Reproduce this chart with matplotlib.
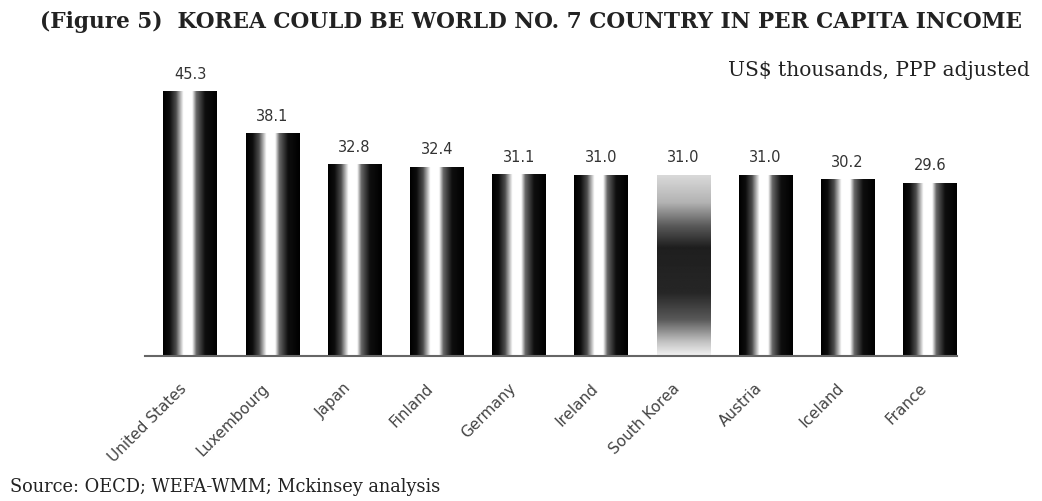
import numpy as np
import matplotlib.pyplot as plt

countries = ['United States', 'Luxembourg', 'Japan', 'Finland', 'Germany',
             'Ireland', 'South Korea', 'Austria', 'Iceland', 'France']
income = [45.3, 38.1, 32.8, 32.4, 31.1, 31.0, 31.0, 31.0, 30.2, 29.6]
value_labels = ['45.3', '38.1', '32.8', '32.4', '31.1', '31.0', '31.0', '31.0', '30.2', '29.6']
highlight = 'South Korea'

fig = plt.figure(figsize=(10.42, 5.02), dpi=100)
ax = fig.add_axes([145 / 1042, 145 / 502, 812 / 1042, 291.5 / 502])

# cylinder-like shading across each bar
u = np.linspace(0, 1, 200)
across = np.interp(u, [0, 0.12, 0.24, 0.38, 0.54, 0.62, 0.78, 1],
                   [0.0, 0.05, 0.3, 1.0, 1.0, 0.4, 0.06, 0.0])
# Korea bar is shaded top-to-bottom instead
v = np.linspace(0, 1, 200)
down = np.interp(v, [0, 0.08, 0.2, 0.35, 0.6, 0.72, 0.85, 1],
                 [0.95, 0.75, 0.35, 0.15, 0.12, 0.35, 0.7, 0.85])

w = 0.65
for i, (c, val) in enumerate(zip(countries, income)):
    if c == highlight:
        img = down[:, None] * np.ones((1, 10))
    else:
        img = np.ones((10, 1)) * across[None, :]
    ax.imshow(img, extent=(i - w / 2, i + w / 2, 0, val), origin='lower',
              aspect='auto', cmap='gray', vmin=0, vmax=1, zorder=2)
    ax.annotate(value_labels[i], (i, val), xytext=(0, 8), textcoords='offset points',
                ha='center', va='bottom', fontsize=10.5, color='#333333',
                family='DejaVu Sans')
    ax.annotate(c, (i, 0), xytext=(-8, -17), textcoords='offset points',
                ha='right', va='top', rotation=45, rotation_mode='anchor',
                fontsize=11, color='#444444', family='DejaVu Sans')

ax.set_xlim(-0.55, 9.33)
ax.set_ylim(0, 50)
for s in ['top', 'right', 'left']:
    ax.spines[s].set_visible(False)
ax.spines['bottom'].set_color('#666666')
ax.spines['bottom'].set_linewidth(1.5)
ax.set_xticks([])
ax.set_yticks([])

fig.text(40 / 1042, 1 - 22 / 502, '(Figure 5)  KOREA COULD BE WORLD NO. 7 COUNTRY IN PER CAPITA INCOME',
         ha='left', va='center', fontsize=15.6, fontweight='bold',
         family='DejaVu Serif', color='#222222')
fig.text(1030 / 1042, 1 - 70 / 502, 'US$ thousands, PPP adjusted', ha='right', va='center',
         fontsize=14.5, family='DejaVu Serif', color='#222222')
fig.text(10 / 1042, 1 - 487 / 502, 'Source: OECD; WEFA-WMM; Mckinsey analysis', ha='left',
         va='center', fontsize=12.8, family='DejaVu Serif', color='#222222')

fig.savefig('out.png', dpi=100)
